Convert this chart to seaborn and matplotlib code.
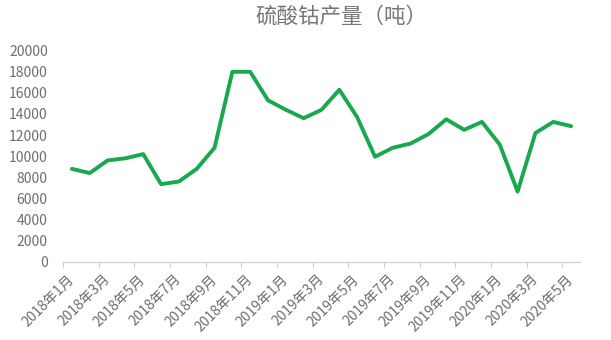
import matplotlib
matplotlib.use("Agg")
import matplotlib.pyplot as plt
import seaborn as sns
import pandas as pd
import numpy as np

months = [f"{y}年{m}月" for y in (2018, 2019, 2020) for m in range(1, 13)][:29]
output = [8800, 8400, 9600, 9800, 10200, 7350, 7600, 8800, 10800, 18000,
          18000, 15300, 14400, 13600, 14400, 16300, 13700, 9950, 10800, 11200,
          12100, 13500, 12500, 13250, 11100, 6650, 12200, 13250, 12850]
title = "硫酸钴产量（吨）"
yticks = list(range(0, 20001, 2000))

sns.set_theme(style="white")
plt.rcParams['font.family'] = ['Noto Sans CJK SC', 'DejaVu Sans']

df = pd.DataFrame({"idx": np.arange(len(months)), "month": months, "value": output})

fig = plt.figure(figsize=(6.11, 3.40), dpi=100)
ax = fig.add_axes([63/611, 1 - 261.7/340, (580-63)/611, (261.7-50.7)/340])

sns.lineplot(data=df, x="idx", y="value", ax=ax, color="#18a84e", linewidth=2.8)

ax.set_xlim(-0.5, len(months) - 0.5)
ax.set_ylim(0, 20000)
ax.set_yticks(yticks)
ax.set_yticklabels([str(v) for v in yticks])
ax.set_xticks(df["idx"][::2])
ax.set_xticklabels(df["month"][::2], rotation=45, ha="right", va="center",
                   rotation_mode="anchor")
ax.set_xticks(np.arange(-0.5, len(months) - 1, 2), minor=True)
ax.tick_params(axis="x", which="major", length=0, pad=11, labelsize=10, labelcolor="#6e6e6e")
ax.tick_params(axis="x", which="minor", length=4, width=0.8, color="#d0d0d0", bottom=True)
ax.tick_params(axis="y", length=0, pad=11, labelsize=10, labelcolor="#6e6e6e")
ax.set_xlabel("")
ax.set_ylabel("")
for s in ("left", "right", "top"):
    ax.spines[s].set_visible(False)
ax.spines["bottom"].set_color("#d0d0d0")
ax.spines["bottom"].set_linewidth(0.9)
ax.grid(False)

fig.text(341/611, 1 - 17/340, title, ha="center", va="center", fontsize=15.5, color="#777777")

fig.savefig("out.png", dpi=100)
